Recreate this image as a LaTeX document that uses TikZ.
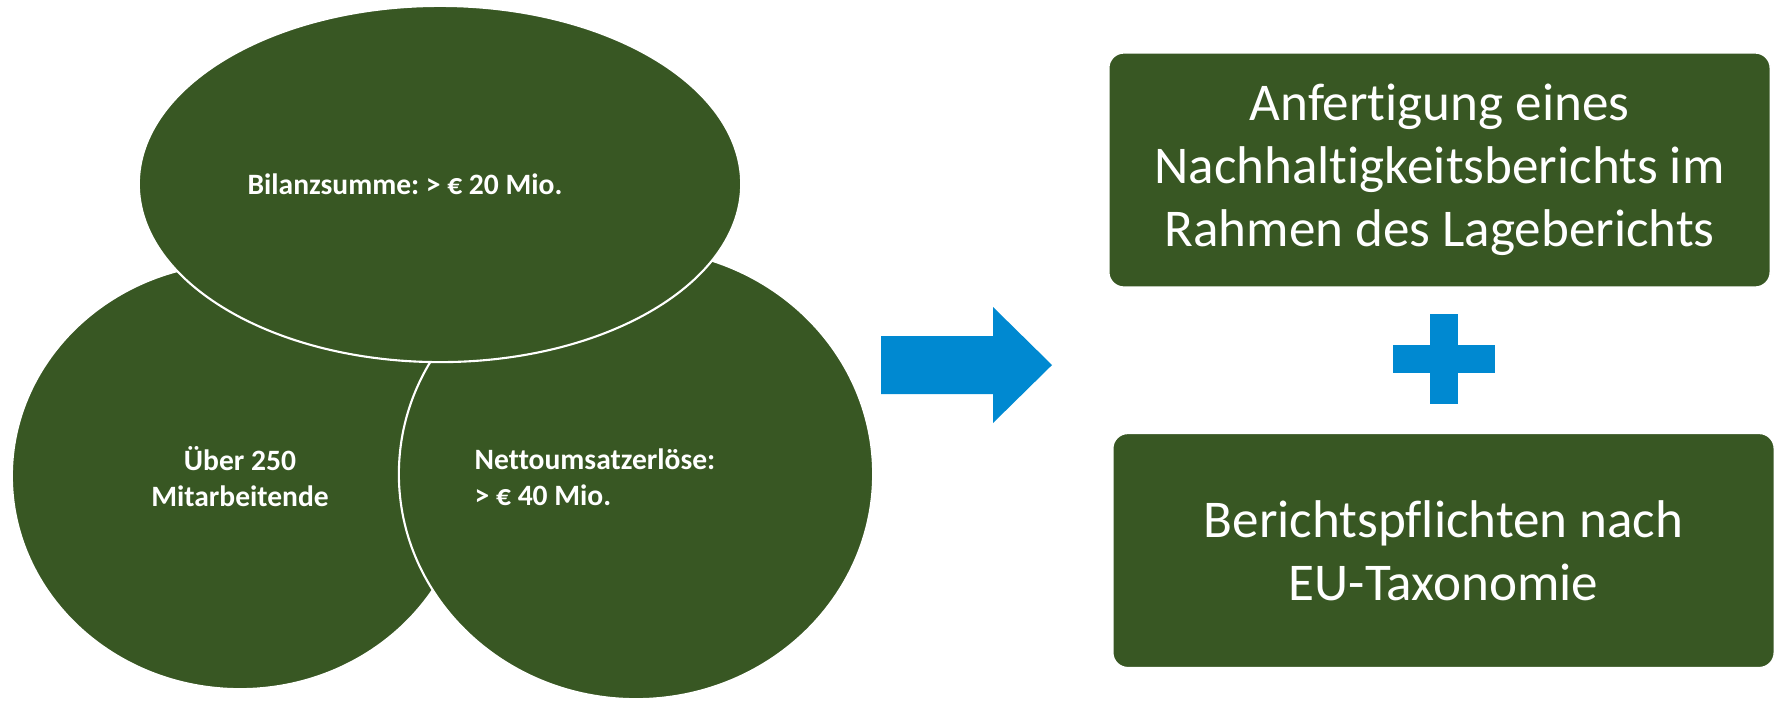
\documentclass[tikz,border=0pt]{standalone}
\usepackage{fontspec}
\setmainfont{Carlito}[Ligatures={NoCommon,NoRequired,NoContextual}]
\usepackage{xcolor}
\usepackage{tikz}
\usetikzlibrary{shapes.geometric, positioning, calc}
\definecolor{leafgreen}{HTML}{385723}
\definecolor{arrowblue}{HTML}{0089D1}
\newcommand{\nolig}{\kern0pt }
\frenchspacing

\begin{document}
\begin{tikzpicture}[x=0.01cm, y=-0.01cm,
    blob/.style={ellipse, fill=leafgreen, draw=white, line width=0.6pt, inner sep=0pt},
    crit/.style={text=white, font=\bfseries\fontsize{8.4}{10.2}\selectfont},
    duty/.style={rectangle, rounded corners=0.15cm, fill=leafgreen, draw=white, line width=0.4pt, minimum width=6.61cm, minimum height=2.34cm, text=white, align=center, font=\fontsize{15.1}{17.9}\selectfont}]
    \useasboundingbox (0,0) rectangle (1783,702);
    \node[blob, minimum width=4.56cm, minimum height=4.26cm] (staff) at (240,476) {};
    \node[blob, minimum width=4.74cm, minimum height=4.50cm] (sales) at (636,474) {};
    \node[blob, minimum width=6.02cm, minimum height=3.56cm] (assets) at (440,184) {};
    \node[crit] (assetstxt) at (405,184) {Bilanzsumme: > € 20 Mio.};
    \node[crit, align=center] (stafftxt) at (240,477) {Über 250\\Mitarbeitende};
    \node[crit, align=left] (salestxt) at (595,477) {Nettoumsatzerlöse:\\> € 40 Mio.};
    \fill[arrowblue] (881,336) -- (993,336) -- (993,307) -- (1052,365) -- (993,423) -- (993,394) -- (881,394) -- cycle;
    \node[duty] (report) at (1439.5,170) {Anfert\nolig igung eines\\Nachhalt\nolig igkeitsberichts im\\Rahmen des Lageberichts};
    \node[duty] (taxo) at (1443.5,550.5) {Berichtspf\nolig lichten nach\\EU-Taxonomie};
    \fill[arrowblue] (1430,314) rectangle (1458,404);
    \fill[arrowblue] (1393,345) rectangle (1495,373);
\end{tikzpicture}
\end{document}
